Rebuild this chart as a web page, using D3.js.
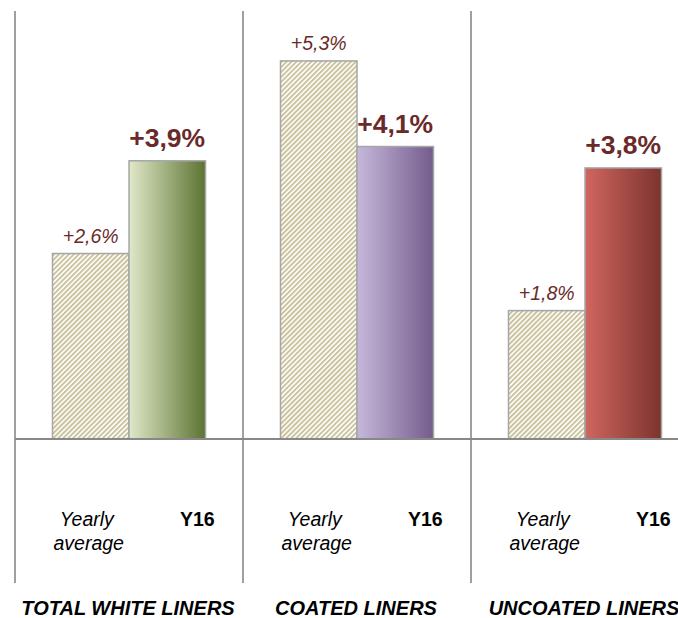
<!DOCTYPE html>
<html><head><meta charset="utf-8">
<script src="https://cdn.jsdelivr.net/npm/d3@7"></script>
<style>body{margin:0;background:#fff}svg{display:block}text{font-family:"Liberation Sans",Arial,sans-serif}</style>
</head><body><svg id="c" width="678" height="618"></svg>
<script>
const categories = ["TOTAL WHITE LINERS", "COATED LINERS", "UNCOATED LINERS"];
const seriesNames = ["Yearly average", "Y16"];
const yearlyAvg = [2.6, 5.3, 1.8];
const y16 = [3.9, 4.1, 3.8];
const yearlyLabels = ["+2,6%", "+5,3%", "+1,8%"];
const y16Labels = ["+3,9%", "+4,1%", "+3,8%"];
const gradients = [["#e0e8c8", "#5c7332"], ["#c6b8da", "#735c8c"], ["#d0665f", "#7c332e"]];

const svg = d3.select("#c");
const x0 = d3.scaleBand().domain(categories).range([15, 699]).paddingInner(0).paddingOuter(0);
const x1 = d3.scaleBand().domain(seriesNames).range([0, x0.bandwidth()]).paddingOuter(0.49).paddingInner(0);
const y = d3.scaleLinear().domain([0, 6]).range([439, 11]);

const defs = svg.append("defs");
const pw = 3.5;
const pat = defs.append("pattern").attr("id", "hatch").attr("patternUnits", "userSpaceOnUse")
  .attr("width", pw).attr("height", pw).attr("patternTransform", "rotate(45)");
pat.append("rect").attr("width", pw).attr("height", pw).attr("fill", "#fff");
pat.append("rect").attr("width", pw * 0.55).attr("height", pw).attr("fill", "#c9c29b");
gradients.forEach((g, i) => {
  const lg = defs.append("linearGradient").attr("id", "g" + i).attr("x1", "0").attr("x2", "1").attr("y1", "0").attr("y2", "0");
  lg.append("stop").attr("offset", "0").attr("stop-color", g[0]);
  lg.append("stop").attr("offset", "1").attr("stop-color", g[1]);
});

// separators
categories.forEach(c => {
  svg.append("line").attr("x1", x0(c)).attr("x2", x0(c)).attr("y1", y(6)).attr("y2", 583)
    .attr("stroke", "#808080").attr("stroke-width", 1.5);
});

const g = svg.selectAll("g.cat").data(categories).join("g").attr("class", "cat")
  .attr("transform", d => `translate(${x0(d)},0)`);

g.append("rect").attr("x", x1("Yearly average")).attr("width", x1.bandwidth())
  .attr("y", (d, i) => y(yearlyAvg[i])).attr("height", (d, i) => y(0) - y(yearlyAvg[i]))
  .attr("fill", "url(#hatch)").attr("stroke", "#a6a6a6").attr("stroke-width", 1.5);
g.append("rect").attr("x", x1("Y16")).attr("width", x1.bandwidth())
  .attr("y", (d, i) => y(y16[i])).attr("height", (d, i) => y(0) - y(y16[i]))
  .attr("fill", (d, i) => `url(#g${i})`).attr("stroke", "#a6a6a6").attr("stroke-width", 1.5);

g.append("text").attr("x", x1("Yearly average") + x1.bandwidth() / 2)
  .attr("y", (d, i) => y(yearlyAvg[i]) - 11).attr("text-anchor", "middle")
  .attr("font-size", 19.5).attr("font-style", "italic").attr("fill", "#6b2a2a")
  .text((d, i) => yearlyLabels[i]);
g.append("text").attr("x", x1("Y16") + x1.bandwidth() / 2)
  .attr("y", (d, i) => y(y16[i]) - 14).attr("text-anchor", "middle")
  .attr("font-size", 26.5).attr("font-weight", "bold").attr("fill", "#6b2a2a")
  .text((d, i) => y16Labels[i]);

// series labels
const yl = g.append("text").attr("text-anchor", "middle").attr("font-size", 19.5).attr("font-style", "italic").attr("fill", "#000");
yl.append("tspan").attr("x", x1("Yearly average") + x1.bandwidth() / 2 - 4).attr("y", 526).text("Yearly");
yl.append("tspan").attr("x", x1("Yearly average") + x1.bandwidth() / 2 - 2).attr("y", 550).text("average");
g.append("text").attr("x", x1("Y16") + x1.bandwidth() / 2 + 30).attr("y", 526).attr("text-anchor", "middle")
  .attr("font-size", 19.5).attr("font-weight", "bold").attr("fill", "#000").text("Y16");

// category labels
g.append("text").attr("x", x0.bandwidth() / 2 - 1).attr("y", 615).attr("text-anchor", "middle")
  .attr("font-size", 20).attr("font-weight", "bold").attr("font-style", "italic").attr("fill", "#000")
  .text(d => d);

// baseline
svg.append("line").attr("x1", 15).attr("x2", 678).attr("y1", y(0)).attr("y2", y(0))
  .attr("stroke", "#888", ).attr("stroke-width", 2);
</script></body></html>
